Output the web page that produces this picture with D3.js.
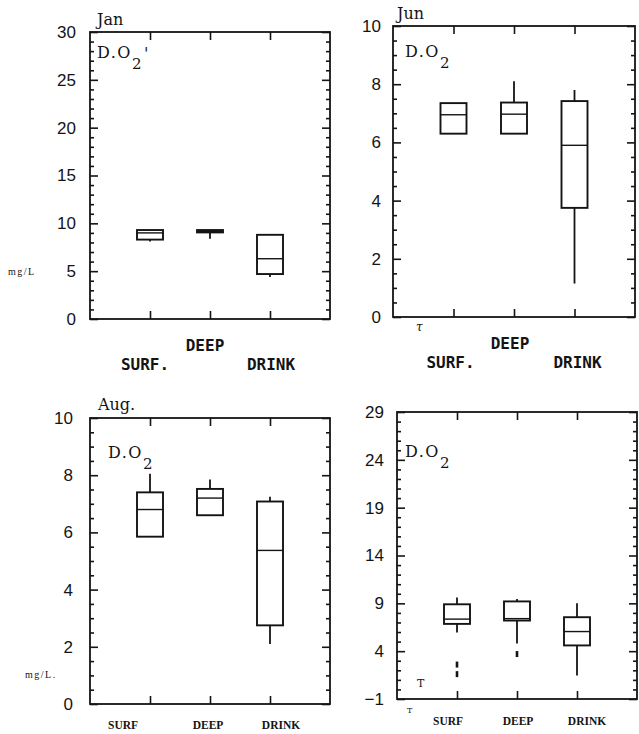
<!DOCTYPE html>
<html>
<head>
<meta charset="utf-8">
<script src="https://cdn.jsdelivr.net/npm/d3@7"></script>
<style>
  html, body { margin: 0; padding: 0; background: #fff; }
  svg { display: block; }
</style>
</head>
<body>
<svg id="chart" width="639" height="734"></svg>
<script>
// Dissolved oxygen (mg/L) by sampling source, four surveys.
const categories = ["SURF", "DEEP", "DRINK"];

// Five-number summaries per source: [min, q1, median, q3, max]
const janStats = [
  [8.1, 8.3, 9.0, 9.3, 9.3],
  [8.4, 9.05, 9.15, 9.3, 9.3],
  [4.4, 4.7, 6.3, 8.8, 8.8]
];
const junStats = [
  [6.3, 6.3, 6.95, 7.35, 7.35],
  [6.3, 6.3, 6.97, 7.37, 8.1],
  [1.15, 3.75, 5.9, 7.42, 7.8]
];
const augStats = [
  [5.85, 5.85, 6.8, 7.4, 8.05],
  [6.6, 6.6, 7.2, 7.52, 7.85],
  [2.1, 2.75, 5.37, 7.08, 7.25]
];
const lastStats = [
  [5.95, 6.85, 7.35, 8.9, 9.6],
  [4.8, 7.2, 7.4, 9.2, 9.45],
  [1.45, 4.6, 6.05, 7.55, 9.0]
];
const lastOutliers = [[2.6, 1.6], [3.7], []];

// Axis ranges and tick values
const janDomain = [0, 30];
const janTicks = [0, 5, 10, 15, 20, 25, 30];
const janMinor = 1;
const junDomain = [0, 10];
const junTicks = [0, 2, 4, 6, 8, 10];
const junMinor = 0.5;
const augDomain = [0, 10];
const augTicks = [0, 2, 4, 6, 8, 10];
const augMinor = 0.5;
const lastDomain = [-1, 29];
const lastTicks = [-1, 4, 9, 14, 19, 24, 29];
const lastMinor = 1;

const upperLabels = ["SURF.", "DEEP", "DRINK"];
const lowerLabels = ["SURF", "DEEP", "DRINK"];

const svg = d3.select("#chart");
const INK = "#141414";

const panels = [
  { stats: janStats, domain: janDomain, ticks: janTicks, minor: janMinor, outliers: null,
    frame: { left: 90, right: 330, top: 32, bottom: 319 }, labelPad: 14,
    title: "Jan", titlePos: [97, 25],
    dox: [97, 58], apostrophe: true,
    labels: upperLabels, labelStyle: "upper", labelShift: [-5, -5, 1], rowY: [51, 32, 51],
    unit: { text: "mg/L", x: 8, y: 275 } },
  { stats: junStats, domain: junDomain, ticks: junTicks, minor: junMinor, outliers: null,
    frame: { left: 393, right: 635, top: 26, bottom: 317 }, labelPad: 12,
    title: "Jun", titlePos: [397, 19],
    dox: [405, 57], apostrophe: false,
    labels: upperLabels, labelStyle: "upper", labelShift: [-3, -4, 3], rowY: [51, 32, 51],
    unit: null },
  { stats: augStats, domain: augDomain, ticks: augTicks, minor: augMinor, outliers: null,
    frame: { left: 90, right: 330, top: 418, bottom: 704 }, labelPad: 17,
    title: "Aug.", titlePos: [98, 410],
    dox: [108, 458], apostrophe: false,
    labels: lowerLabels, labelStyle: "lower", labelShift: [-27, -2, 11], rowY: [25, 25, 25],
    unit: { text: "mg/L.", x: 25, y: 678 } },
  { stats: lastStats, domain: lastDomain, ticks: lastTicks, minor: lastMinor, outliers: lastOutliers,
    frame: { left: 397, right: 637, top: 412, bottom: 699 }, labelPad: 13,
    title: null, titlePos: null,
    dox: [405, 457], apostrophe: false,
    labels: lowerLabels, labelStyle: "lower", labelShift: [-9, 1, 10], rowY: [26, 26, 26],
    unit: null }
];

function drawPanel(p) {
  const f = p.frame;
  const g = svg.append("g");

  const x = d3.scalePoint().domain(categories).range([f.left, f.right]).padding(1);
  const y = d3.scaleLinear().domain(p.domain).range([f.bottom, f.top]);

  const minorVals = d3.range(p.domain[0], p.domain[1] + 1e-9, p.minor)
    .filter(v => !p.ticks.some(t => Math.abs(t - v) < 1e-9));

  // Left axis: labelled major ticks plus unlabelled minor ticks, all pointing inward
  const left = g.append("g").attr("transform", `translate(${f.left},0)`);
  left.call(d3.axisLeft(y).tickValues(p.ticks).tickSize(-8).tickPadding(p.labelPad)
    .tickFormat(d3.format("d")));
  left.append("g").call(d3.axisLeft(y).tickValues(minorVals).tickSize(-4).tickFormat(""));

  // Right axis: same ticks, no labels
  const right = g.append("g").attr("transform", `translate(${f.right},0)`);
  right.call(d3.axisRight(y).tickValues(p.ticks).tickSize(-8).tickFormat(""));
  right.append("g").call(d3.axisRight(y).tickValues(minorVals).tickSize(-4).tickFormat(""));

  // Category ticks on top and bottom edges
  g.append("g").attr("transform", `translate(0,${f.top})`)
    .call(d3.axisTop(x).tickSize(-8).tickFormat(""));
  g.append("g").attr("transform", `translate(0,${f.bottom})`)
    .call(d3.axisBottom(x).tickSize(-8).tickFormat(""));

  g.selectAll(".domain").remove();
  g.selectAll(".tick line").attr("stroke", INK).attr("stroke-width", 1.6);
  g.selectAll(".tick text")
    .attr("fill", INK)
    .style("font-family", "'Liberation Sans', Arial, sans-serif")
    .style("font-size", "17px");

  // Plot frame
  g.append("rect")
    .attr("x", f.left).attr("y", f.top)
    .attr("width", f.right - f.left).attr("height", f.bottom - f.top)
    .attr("fill", "none").attr("stroke", INK).attr("stroke-width", 1.8);

  // Box plots
  const boxW = 26;
  const boxes = g.selectAll("g.box").data(p.stats).join("g").attr("class", "box");
  boxes.append("line")
    .attr("x1", (d, i) => x(categories[i])).attr("x2", (d, i) => x(categories[i]))
    .attr("y1", d => y(d[0])).attr("y2", d => y(d[1]))
    .attr("stroke", INK).attr("stroke-width", 1.8);
  boxes.append("line")
    .attr("x1", (d, i) => x(categories[i])).attr("x2", (d, i) => x(categories[i]))
    .attr("y1", d => y(d[3])).attr("y2", d => y(d[4]))
    .attr("stroke", INK).attr("stroke-width", 1.8);
  boxes.append("rect")
    .attr("x", (d, i) => x(categories[i]) - boxW / 2)
    .attr("y", d => y(d[3]))
    .attr("width", boxW)
    .attr("height", d => Math.max(y(d[1]) - y(d[3]), 0.5))
    .attr("fill", "none").attr("stroke", INK).attr("stroke-width", 1.9);
  boxes.append("line")
    .attr("x1", (d, i) => x(categories[i]) - boxW / 2)
    .attr("x2", (d, i) => x(categories[i]) + boxW / 2)
    .attr("y1", d => y(d[2])).attr("y2", d => y(d[2]))
    .attr("stroke", INK).attr("stroke-width", 1.4);

  // Outlying values drawn as short vertical marks
  if (p.outliers) {
    p.outliers.forEach((vals, i) => {
      g.selectAll(null).data(vals).join("line")
        .attr("x1", x(categories[i])).attr("x2", x(categories[i]))
        .attr("y1", v => y(v) - 3).attr("y2", v => y(v) + 3)
        .attr("stroke", INK).attr("stroke-width", 2.6);
    });
  }

  // Category names under the frame
  const lab = g.selectAll("text.cat").data(p.labels).join("text")
    .attr("class", "cat")
    .attr("x", (d, i) => x(categories[i]) + p.labelShift[i])
    .attr("y", (d, i) => f.bottom + p.rowY[i])
    .attr("text-anchor", "middle")
    .attr("fill", INK)
    .text(d => d);
  if (p.labelStyle === "upper") {
    lab.style("font-family", "'DejaVu Sans Mono', monospace")
      .style("font-weight", "bold").style("font-size", "16px");
  } else {
    lab.style("font-family", "'Liberation Serif', serif")
      .style("font-weight", "bold").style("font-size", "11.5px");
  }

  // Survey month
  if (p.title) {
    g.append("text")
      .attr("x", p.titlePos[0]).attr("y", p.titlePos[1])
      .attr("fill", INK)
      .style("font-family", "'DejaVu Serif', serif").style("font-size", "16px")
      .text(p.title);
  }

  // Parameter name: D.O2
  const t = g.append("text")
    .attr("x", p.dox[0]).attr("y", p.dox[1])
    .attr("fill", INK)
    .style("font-family", "'DejaVu Serif', serif").style("font-size", "16px")
    .style("letter-spacing", "1.5px");
  t.append("tspan").text("D.O");
  t.append("tspan").attr("dy", 11).style("font-size", "15px").text("2");
  if (p.apostrophe) t.append("tspan").attr("dy", -10).attr("dx", 1).text("'");

  // Units
  if (p.unit) {
    g.append("text")
      .attr("x", p.unit.x).attr("y", p.unit.y)
      .attr("fill", INK)
      .style("font-family", "'Liberation Serif', serif").style("font-size", "10px")
      .style("letter-spacing", "1.5px")
      .text(p.unit.text);
  }
}

panels.forEach(drawPanel);

// Small pen marks near the lower-left corners
const marks = [
  { text: "τ", x: 416, y: 331, size: 12, italic: true },
  { text: "T", x: 417, y: 687, size: 11, italic: false },
  { text: "T", x: 407, y: 713, size: 8, italic: false }
];
svg.selectAll("text.mark").data(marks).join("text")
  .attr("class", "mark")
  .attr("x", d => d.x).attr("y", d => d.y)
  .attr("fill", INK)
  .style("font-family", "'DejaVu Serif', serif")
  .style("font-size", d => d.size + "px")
  .style("font-style", d => d.italic ? "italic" : "normal")
  .text(d => d.text);
</script>
</body>
</html>
